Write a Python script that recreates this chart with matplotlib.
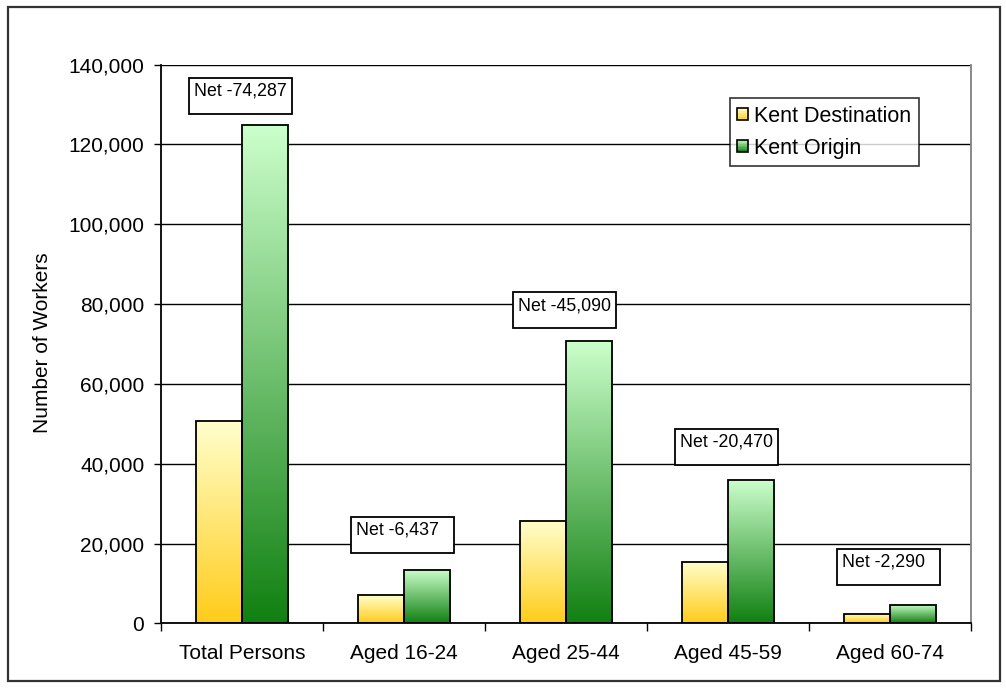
import numpy as np
import matplotlib
matplotlib.use("Agg")
import matplotlib.pyplot as plt
from matplotlib.patches import Rectangle
from matplotlib.colors import LinearSegmentedColormap
from matplotlib.legend_handler import HandlerBase
from matplotlib.ticker import FuncFormatter, FixedLocator

plt.rcParams['font.family'] = ['Liberation Sans', 'DejaVu Sans']

# -------- data --------
categories = ['Total Persons', 'Aged 16-24', 'Aged 25-44', 'Aged 45-59', 'Aged 60-74']
destination = [50613, 7000, 25610, 15450, 2350]
origin = [124900, 13437, 70700, 35920, 4640]
net_labels = ['Net -74,287', 'Net -6,437', 'Net -45,090', 'Net -20,470', 'Net -2,290']
series_names = ['Kent Destination', 'Kent Origin']

# -------- styles --------
YELLOW = ('#FFFFCC', '#FFCC1A')   # top, bottom
GREEN = ('#CCFFCC', '#118011')
BAR_W = 0.284
label_gap = [2800, 4300, 3250, 3750, 4950]   # space between green bar and its net box
BOX_W = 0.637       # in category units
BOX_H = 9025        # in workers

fig = plt.figure(figsize=(10.06, 6.89), dpi=100)
fig.patch.set_facecolor('white')
fig.patches.append(Rectangle((8 / 1006, 1 - 681 / 689), 992 / 1006, 674 / 689,
                             transform=fig.transFigure, fill=False,
                             edgecolor='#333333', linewidth=1.6))

ax = fig.add_axes([161 / 1006, 1 - 623.3 / 689, 810 / 1006, 558.6 / 689])


def gradient_bar(x0, h, colors):
    cmap = LinearSegmentedColormap.from_list('g', [colors[1], colors[0]])
    grad = np.linspace(0, 1, 256).reshape(-1, 1)
    ax.imshow(grad, cmap=cmap, origin='lower', aspect='auto',
              extent=(x0, x0 + BAR_W, 0, h), interpolation='bilinear', zorder=2)
    ax.add_patch(Rectangle((x0, 0), BAR_W, h, fill=False,
                           edgecolor='black', linewidth=1.3, zorder=3))


x = np.arange(len(categories))
for i in x:
    gradient_bar(i - BAR_W, destination[i], YELLOW)
    gradient_bar(i, origin[i], GREEN)

    # net difference box above the origin bar
    bottom = origin[i] + label_gap[i]
    ax.add_patch(Rectangle((i - BOX_W / 2 - 0.01, bottom), BOX_W, BOX_H,
                           facecolor='white', edgecolor='black',
                           linewidth=1.3, zorder=4))
    ax.text(i - BOX_W / 2 + 0.02, bottom + BOX_H - 1200, net_labels[i],
            fontsize=12.8, ha='left', va='top', zorder=5)

ax.set_xlim(-0.5, len(categories) - 0.5)
ax.set_ylim(0, 140000)
ax.set_aspect('auto')

ax.yaxis.set_major_locator(FixedLocator(np.arange(0, 140001, 20000)))
ax.yaxis.set_major_formatter(FuncFormatter(lambda v, p: f'{int(v):,}'))
ax.grid(axis='y', color='black', linewidth=1.0, zorder=1)
ax.set_axisbelow(True)

ax.set_xticks(x)
ax.set_xticklabels(categories)
ax.xaxis.set_minor_locator(FixedLocator(np.arange(-0.5, len(categories), 1.0)))
ax.tick_params(axis='x', which='major', length=0, pad=15, labelsize=15)
ax.tick_params(axis='x', which='minor', length=6, width=1.0, direction='out')
ax.tick_params(axis='y', length=5, width=1.0, pad=7, labelsize=15)

for side in ['left', 'bottom']:
    ax.spines[side].set_linewidth(1.3)
    ax.spines[side].set_color('black')
ax.spines['top'].set_visible(False)
ax.spines['right'].set_color('#808080')
ax.spines['right'].set_linewidth(1.3)

fig.text(43 / 1006, 1 - 343 / 689, 'Number of Workers', rotation=90,
         ha='center', va='center', fontsize=15)


# legend keys drawn as small vertical gradients
class GradientHandler(HandlerBase):
    def __init__(self, colors):
        super().__init__()
        self.colors = colors

    def create_artists(self, legend, orig_handle, xdescent, ydescent,
                       width, height, fontsize, trans):
        arts = []
        n = 8
        top = np.array(matplotlib.colors.to_rgb(self.colors[0]))
        bot = np.array(matplotlib.colors.to_rgb(self.colors[1]))
        for k in range(n):
            c = bot + (top - bot) * (k + 0.5) / n
            arts.append(Rectangle((-xdescent, -ydescent + height * k / n),
                                  width, height / n, facecolor=c,
                                  edgecolor='none', transform=trans))
        arts.append(Rectangle((-xdescent, -ydescent), width, height,
                              fill=False, edgecolor='black', linewidth=1.2,
                              transform=trans))
        return arts


h1 = Rectangle((0, 0), 1, 1)
h2 = Rectangle((0, 0), 1, 1)
leg = ax.legend([h1, h2], series_names, loc='upper left',
                bbox_to_anchor=(0.702, 0.94), borderaxespad=0,
                fontsize=15.5, frameon=True, fancybox=False,
                handlelength=0.5, handleheight=0.5, handletextpad=0.3,
                labelspacing=0.5, borderpad=0.35,
                handler_map={h1: GradientHandler(YELLOW), h2: GradientHandler(GREEN)})
leg.get_frame().set_edgecolor('black')
leg.get_frame().set_linewidth(1.2)
leg.set_zorder(6)

fig.savefig('out.png', dpi=100)
